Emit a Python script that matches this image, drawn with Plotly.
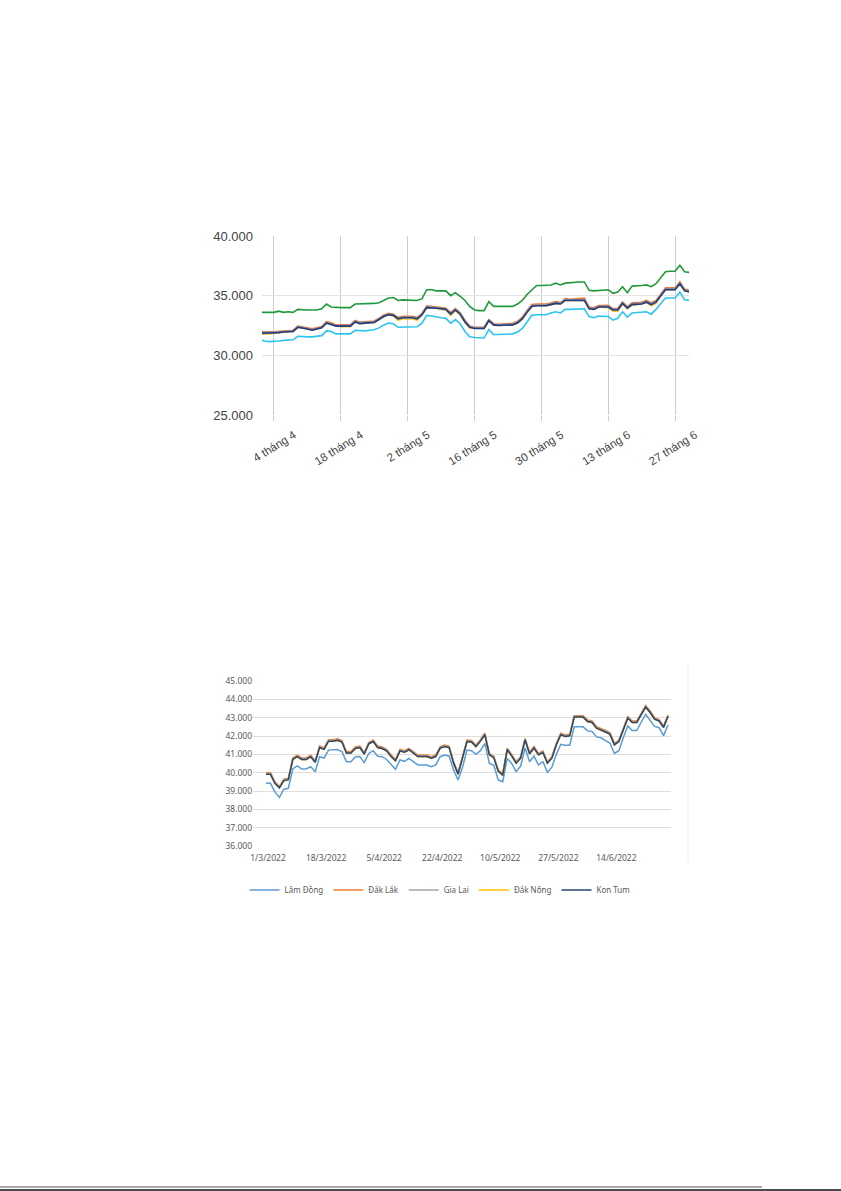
import pandas as pd
import plotly.graph_objects as go

# ---------------- Chart 1 data (daily, 1/4 - 30/6) ----------------
dates1 = pd.date_range("2022-04-01", "2022-06-30", freq="D")

green1 = [33600,33600,33600,33600,33700,33600,33650,33600,33850,33800,
          33800,33800,33800,33900,34300,34050,34000,34000,34000,34000,
          34300,34300,34300,34300,34350,34400,34600,34800,34850,34600,
          34650,34650,34650,34600,34750,35500,35500,35400,35400,35400,
          35000,35250,34950,34600,34100,33800,33750,33750,34500,34100,
          34100,34100,34100,34100,34300,34600,35100,35500,35850,35850,
          35850,35900,36050,35900,36050,36100,36100,36150,36150,35450,
          35400,35450,35500,35500,35200,35300,35750,35250,35800,35800,
          35850,35900,35750,36000,36500,37000,37050,37050,37550,37000,
          36950]

cyan1 = [31350,31200,31150,31150,31200,31250,31300,31300,31600,31550,
         31550,31550,31600,31650,32050,32000,31800,31800,31800,31800,
         32100,32050,32050,32100,32150,32300,32550,32700,32650,32350,
         32350,32350,32350,32400,32700,33350,33300,33200,33150,33100,
         32700,33000,32650,32000,31550,31500,31450,31450,32150,31750,
         31750,31750,31750,31800,31950,32250,32800,33350,33400,33400,
         33400,33550,33650,33550,33850,33850,33850,33900,33900,33250,
         33150,33300,33250,33250,32950,33100,33650,33200,33550,33600,
         33600,33650,33450,33850,34350,34800,34800,34800,35300,34650,
         34600]

navy1 = [31850,31850,31850,31870,31900,31950,32000,32000,32350,32300,
         32200,32100,32200,32300,32700,32600,32450,32450,32450,32450,
         32800,32650,32700,32700,32750,33000,33250,33400,33350,33050,
         33150,33150,33150,33050,33400,34000,34000,33950,33900,33850,
         33450,33800,33450,32800,32350,32250,32250,32250,32900,32550,
         32500,32500,32500,32550,32700,33050,33600,34100,34150,34150,
         34150,34250,34350,34300,34600,34600,34600,34600,34600,33900,
         33850,34050,34050,34050,33800,33800,34350,33950,34250,34250,
         34300,34450,34250,34450,35000,35500,35500,35500,36000,35400,
         35300]

orange1 = [31980,31950,31950,31980,32000,32050,32100,32100,32450,32400,
           32300,32220,32320,32420,32820,32720,32550,32550,32550,32560,
           32920,32780,32820,32830,32880,33120,33380,33520,33450,33180,
           33280,33280,33280,33180,33520,34150,34120,34050,34000,33950,
           33580,33920,33560,32950,32450,32350,32350,32350,33000,32650,
           32600,32620,32620,32680,32850,33200,33750,34250,34300,34300,
           34300,34380,34500,34420,34750,34700,34750,34800,34800,34050,
           33980,34180,34200,34200,33920,33950,34480,34080,34400,34420,
           34450,34600,34400,34600,35150,35650,35650,35650,36150,35550,
           35450]

gray1 = [31920,31900,31900,31920,31950,32000,32050,32050,32400,32350,
         32250,32160,32260,32360,32760,32660,32500,32500,32500,32510,
         32860,32720,32760,32760,32810,33060,33310,33460,33400,33110,
         33210,33210,33210,33110,33460,34070,34060,34000,33950,33900,
         33510,33860,33500,32870,32400,32300,32300,32300,32950,32600,
         32550,32560,32560,32610,32770,33120,33670,34170,34220,34220,
         34220,34310,34420,34360,34670,34650,34670,34680,34680,33970,
         33910,34110,34120,34120,33860,33870,34410,34010,34320,34330,
         34370,34520,34320,34520,35070,35570,35570,35570,36070,35470,
         35370]

yellow1 = [31800,31780,31800,31850,31900,31950,32000,31980,32350,32300,
           32200,32100,32200,32300,32700,32600,32450,32400,32400,32400,
           32800,32650,32700,32700,32750,33000,33250,33400,33300,32950,
           33050,33050,33050,32950,33350,34000,34000,33950,33850,33800,
           33350,33750,33400,32750,32300,32250,32250,32250,32900,32500,
           32500,32500,32500,32550,32700,33050,33600,34100,34150,34150,
           34150,34250,34350,34300,34600,34600,34600,34600,34600,33900,
           33850,34050,34050,34000,33700,33700,34300,33900,34200,34250,
           34300,34450,34150,34350,35000,35500,35500,35500,36000,35400,
           35300]

x1_tick_dates = ["2022-04-04", "2022-04-18", "2022-05-02", "2022-05-16",
                 "2022-05-30", "2022-06-13", "2022-06-27"]
x1_tick_text = ["4 tháng 4", "18 tháng 4", "2 tháng 5", "16 tháng 5",
                "30 tháng 5", "13 tháng 6", "27 tháng 6"]
y1_ticks = [25000, 30000, 35000, 40000]

# ---------------- Chart 2 data (trading days from 1/3/2022) ----------------
dak_lak2 = [40000,40000,39500,39250,39650,39700,40800,40950,40800,40800,
            40950,40650,41450,41350,41800,41800,41850,41750,41150,41150,
            41400,41450,41100,41650,41780,41450,41400,41270,40960,40730,
            41270,41200,41330,41150,40960,40960,40960,40870,40960,41420,
            41510,41450,40600,40000,40900,41780,41750,41500,41800,42150,
            41050,40900,40150,39950,41330,41000,40600,40870,41870,41110,
            41420,41050,41180,40600,40870,41600,42150,42060,42090,43110,
            43110,43110,42870,42820,42510,42420,42300,42180,41600,41780,
            42420,43060,42820,42820,43240,43660,43360,43000,42900,42550,
            43150]

gia_lai2 = [39950,39950,39450,39200,39600,39650,40750,40900,40750,40750,
            40900,40600,41400,41300,41750,41750,41800,41700,41100,41100,
            41350,41400,41050,41600,41730,41400,41350,41220,40910,40680,
            41220,41150,41280,41100,40910,40910,40910,40820,40910,41370,
            41460,41400,40550,39950,40850,41730,41700,41450,41750,42100,
            41000,40850,40100,39900,41280,40950,40550,40820,41820,41060,
            41370,41000,41130,40550,40820,41550,42100,42010,42040,43060,
            43060,43060,42820,42770,42460,42370,42250,42130,41550,41730,
            42370,43010,42770,42770,43190,43610,43310,42950,42850,42500,
            43100]

dak_nong2 = [39910,39910,39410,39160,39560,39610,40710,40860,40710,40710,
             40860,40560,41360,41260,41710,41710,41760,41660,41060,41060,
             41310,41360,41010,41560,41690,41360,41310,41180,40870,40640,
             41180,41110,41240,41060,40870,40870,40870,40780,40870,41330,
             41420,41360,40510,39910,40810,41690,41660,41410,41710,42060,
             40960,40810,40060,39860,41240,40910,40510,40780,41780,41020,
             41330,40960,41090,40510,40780,41510,42060,41970,42000,43020,
             43020,43020,42780,42730,42420,42330,42210,42090,41510,41690,
             42330,42970,42730,42730,43150,43570,43270,42910,42810,42460,
             43060]

kon_tum2 = [39920,39920,39420,39170,39570,39620,40720,40870,40720,40720,
            40870,40570,41370,41270,41720,41720,41770,41670,41070,41070,
            41320,41370,41020,41570,41700,41370,41320,41190,40880,40650,
            41190,41120,41250,41070,40880,40880,40880,40790,40880,41340,
            41430,41370,40520,39920,40820,41700,41670,41420,41720,42070,
            40970,40820,40070,39870,41250,40920,40520,40790,41790,41030,
            41340,40970,41100,40520,40790,41520,42070,41980,42010,43030,
            43030,43030,42790,42740,42430,42340,42220,42100,41520,41700,
            42340,42980,42740,42740,43160,43580,43280,42920,42820,42470,
            43070]

lam_dong2 = [39420,39420,38950,38650,39100,39150,40200,40370,40200,40200,
             40330,40050,40870,40800,41230,41250,41260,41150,40600,40600,
             40850,40880,40550,41050,41200,40900,40870,40720,40420,40180,
             40700,40620,40780,40600,40420,40420,40420,40330,40420,40870,
             40960,40900,40150,39600,40300,41230,41200,41000,41200,41600,
             40520,40400,39600,39510,40780,40500,40050,40350,41360,40600,
             40900,40420,40600,40020,40300,41000,41550,41500,41500,42510,
             42510,42500,42280,42250,41950,41900,41750,41620,41050,41200,
             41900,42550,42300,42300,42750,43180,42850,42520,42450,42020,
             42600]

x2_index = list(range(len(dak_lak2)))
x2_tick_pos = [0, 13, 26, 39, 52, 65, 78]
x2_tick_text = ["1/3/2022", "18/3/2022", "5/4/2022", "22/4/2022",
                "10/5/2022", "27/5/2022", "14/6/2022"]
y2_ticks = [36000, 37000, 38000, 39000, 40000, 41000, 42000, 43000, 44000, 45000]

series2 = [("Lâm Đồng", lam_dong2, "#5b9bd5"),
           ("Đắk Lắk", dak_lak2, "#ed7d31"),
           ("Gia Lai", gia_lai2, "#a5a5a5"),
           ("Đắk Nông", dak_nong2, "#ffc000"),
           ("Kon Tum", kon_tum2, "#264478")]

# ---------------- Page geometry (pixels) ----------------
W, H = 841, 1191
def px(x): return x / W
def py(y): return 1 - y / H

fig = go.Figure()

series1 = [(green1, "#1e9a3c"), (cyan1, "#2bc3f3"), (yellow1, "#f5c024"),
           (orange1, "#f07b3c"), (gray1, "#8a8a8a"), (navy1, "#1d3d8a")]
for vals, col in series1:
    fig.add_trace(go.Scatter(x=dates1, y=vals, mode="lines",
                             line=dict(color=col, width=1.6),
                             showlegend=False, xaxis="x", yaxis="y",
                             hoverinfo="skip"))

for name, vals, col in series2:
    fig.add_trace(go.Scatter(x=x2_index, y=vals, mode="lines", name=name,
                             line=dict(color=col, width=1.5),
                             xaxis="x2", yaxis="y2", hoverinfo="skip"))

# chart-2 x range from pixel placement of first/last point
p2_left, p2_right, first_px, last_px = 253, 671, 266, 668
step = (last_px - first_px) / (len(x2_index) - 1)
x2_range = [-(first_px - p2_left) / step,
            (len(x2_index) - 1) + (p2_right - last_px) / step]

font1 = dict(family="Liberation Sans, Arial, sans-serif", color="#444444")
font2 = dict(family="Noto Sans, sans-serif", color="#595959", size=8.5)

fig.update_layout(
    width=W, height=H,
    margin=dict(l=0, r=0, t=0, b=0),
    paper_bgcolor="white", plot_bgcolor="white",
    separators=",.",
    xaxis=dict(domain=[px(262), px(689)], anchor="y", type="date",
               range=["2022-04-01 12:00", "2022-06-29 22:00"],
               tickvals=x1_tick_dates, ticktext=x1_tick_text,
               tickangle=-32, tickfont=dict(size=11.5, **font1),
               showgrid=True, gridcolor="#cccccc", gridwidth=1,
               ticks="outside", ticklen=5, tickcolor="#cccccc",
               ticklabelshift=20, ticklabelstandoff=3,
               showline=False, zeroline=False, automargin=False),
    yaxis=dict(domain=[py(415), py(236)], anchor="x",
               range=[25000, 40000], tickvals=y1_ticks, tickformat=",",
               tickfont=dict(size=13, **font1),
               showgrid=True, gridcolor="#e3e3e3", gridwidth=1,
               ticklabelstandoff=8,
               showline=False, zeroline=False, automargin=False),
    xaxis2=dict(domain=[px(p2_left), px(p2_right)], anchor="y2",
                range=x2_range, tickvals=x2_tick_pos, ticktext=x2_tick_text,
                tickangle=0, tickfont=font2, showgrid=False,
                ticklabelstandoff=5, ticklabelshift=2,
                showline=False, zeroline=False, automargin=False),
    yaxis2=dict(domain=[py(846), py(681)], anchor="x2",
                range=[36000, 45000], tickvals=y2_ticks, tickformat=",",
                tickfont=font2, showgrid=True, gridcolor="#dedede",
                gridwidth=1, showline=False, zeroline=False,
                automargin=False),
    legend=dict(orientation="h", x=px(440), xanchor="center",
                y=py(890), yanchor="middle",
                font=dict(family="Noto Sans, sans-serif", color="#595959", size=8),
                bgcolor="rgba(0,0,0,0)", itemwidth=30),
    shapes=[
        dict(type="line", xref="paper", yref="paper",
             x0=px(688), x1=px(688), y0=py(664), y1=py(862),
             line=dict(color="#ececec", width=1)),
        dict(type="line", xref="paper", yref="paper",
             x0=0, x1=px(762), y0=py(1187), y1=py(1187),
             line=dict(color="#8c8c8c", width=1.5)),
        dict(type="line", xref="paper", yref="paper",
             x0=0, x1=1, y0=py(1190), y1=py(1190),
             line=dict(color="#111111", width=1.5)),
    ],
)

fig.write_html("out.html", config={"displayModeBar": False},
               post_script="document.body.style.margin='0';document.body.style.overflow='hidden';")
